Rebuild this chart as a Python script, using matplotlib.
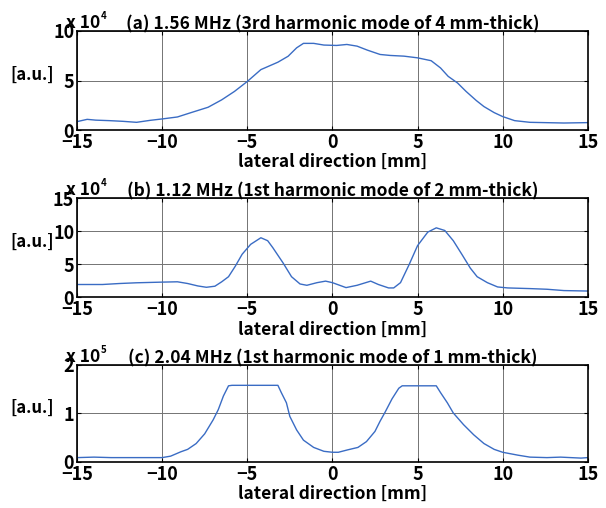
import matplotlib
matplotlib.use("Agg")
import matplotlib.pyplot as plt

plt.rcParams['font.family'] = ['Noto Sans CJK JP', 'DejaVu Sans']
plt.rcParams['font.weight'] = 'bold'

# Panel (a) 1.56 MHz, values in units of 1e4
xa = [-15, -14.4, -13.9, -13.1, -12.3, -11.5, -10.7, -10, -9.1, -8.3, -7.3, -6.5,
      -5.75, -5, -4.2, -3.2, -2.6, -2.1, -1.7, -1.1, -0.5, 0.25, 0.85, 1.45, 2.05,
      2.8, 3.4, 4.2, 5, 5.8, 6.35, 6.8, 7.35, 7.85, 8.45, 8.9, 9.5, 10, 10.7, 11.6,
      13.6, 15]
ya = [0.85, 1.08, 1.0, 0.95, 0.88, 0.78, 0.98, 1.12, 1.32, 1.76, 2.3, 3.05,
      3.9, 4.9, 6.1, 6.85, 7.45, 8.3, 8.75, 8.75, 8.58, 8.54, 8.64, 8.47, 8.07,
      7.63, 7.53, 7.46, 7.29, 7.0, 6.27, 5.42, 4.75, 3.9, 2.98, 2.37, 1.76, 1.36, 0.95, 0.78,
      0.71, 0.75]

# Panel (b) 1.12 MHz, values in units of 1e4
xb = [-15, -13.5, -12.5, -11.5, -10, -9.1, -8.5, -7.9, -7.4, -6.9, -6.5, -6.1,
      -5.7, -5.3, -4.8, -4.2, -3.8, -3.5, -2.9, -2.4, -1.9, -1.5, -0.9, -0.4, 0,
      0.8, 1.45, 2.25, 2.7, 3.3, 3.6, 4.0, 4.5, 5.0, 5.6, 6.1, 6.6, 7.1, 7.6, 8.1,
      8.5, 9.1, 9.7, 10.3, 11.6, 12.6, 13.6, 15]
yb = [1.92, 1.92, 2.07, 2.18, 2.28, 2.33, 2.07, 1.7, 1.5, 1.66, 2.33, 3.1,
      4.7, 6.5, 8.0, 9.0, 8.55, 7.5, 5.2, 3.1, 2.0, 1.8, 2.2, 2.43, 2.2,
      1.45, 1.8, 2.43, 1.92, 1.4, 1.4, 2.2, 4.9, 7.8, 9.85, 10.5, 10.1, 8.55, 6.5, 4.4,
      3.1, 2.2, 1.55, 1.4, 1.3, 1.2, 1.0, 0.93]

# Panel (c) 2.04 MHz, values in units of 1e5
xc = [-15, -14, -13, -12, -11, -10, -9.5, -8.9, -8.5, -8, -7.5, -7, -6.7, -6.4,
      -6.1, -5.9, -3.2, -3.0, -2.7, -2.5, -2.1, -1.7, -1.1, -0.5, 0, 0.35, 0.9,
      1.5, 2, 2.5, 2.8, 3.1, 3.5, 3.9, 4.1, 6.1, 6.35, 6.75, 7.1, 7.7, 8.3, 8.9,
      9.5, 10, 10.9, 11.6, 12.6, 13.4, 14.6, 15]
yc = [0.09, 0.10, 0.09, 0.09, 0.09, 0.09, 0.12, 0.21, 0.26, 0.38, 0.58, 0.87, 1.08, 1.36,
      1.57, 1.58, 1.58, 1.43, 1.22, 0.94, 0.66, 0.45, 0.30, 0.22, 0.20, 0.20, 0.25,
      0.30, 0.42, 0.63, 0.84, 1.03, 1.3, 1.52, 1.57, 1.57, 1.43, 1.22, 1.01, 0.77, 0.56, 0.38,
      0.26, 0.20, 0.14, 0.10, 0.09, 0.10, 0.08, 0.09]

titles = ["(a) 1.56 MHz (3rd harmonic mode of 4 mm-thick)",
          "(b) 1.12 MHz (1st harmonic mode of 2 mm-thick)",
          "(c) 2.04 MHz (1st harmonic mode of 1 mm-thick)"]
exponents = ["4", "4", "5"]
ylims = [(0, 10), (0, 15), (0, 2)]
yticks = [[0, 5, 10], [0, 5, 10, 15], [0, 1, 2]]
xticks = [-15, -10, -5, 0, 5, 10, 15]

fig = plt.figure(figsize=(6.06, 5.08), dpi=100)
boxes = [[0.127, 0.744, 0.843, 0.195],
         [0.127, 0.415, 0.843, 0.195],
         [0.127, 0.0906, 0.843, 0.191]]
line_color = '#3a6cc4'

for i, (x, y) in enumerate([(xa, ya), (xb, yb), (xc, yc)]):
    ax = fig.add_axes(boxes[i])
    ax.plot(x, y, color=line_color, lw=1.0)
    ax.set_xlim(-15, 15)
    ax.set_ylim(*ylims[i])
    ax.set_xticks(xticks)
    ax.set_yticks(yticks[i])
    ax.grid(True, color='0.45', lw=0.7)
    ax.tick_params(direction='in', top=True, right=True, labelsize=13,
                   length=3, width=0.8, pad=2)
    for s in ax.spines.values():
        s.set_linewidth(1.2)
    ax.set_title(titles[i], fontsize=12.5, fontweight='bold', pad=1)
    ax.set_xlabel("lateral direction [mm]", fontsize=12.5, fontweight='bold', labelpad=1)
    ax.text(-0.087, 0.56, "[a.u.]", transform=ax.transAxes, ha='center',
            va='center', fontsize=12, fontweight='bold')
    ax.text(-0.022, 0.99, "x 10", transform=ax.transAxes, ha='left',
            va='bottom', fontsize=12.5, fontweight='bold')
    ax.text(0.047, 1.1, exponents[i], transform=ax.transAxes, ha='left',
            va='bottom', fontsize=7, fontweight='bold')

fig.savefig("out.png", dpi=100)
